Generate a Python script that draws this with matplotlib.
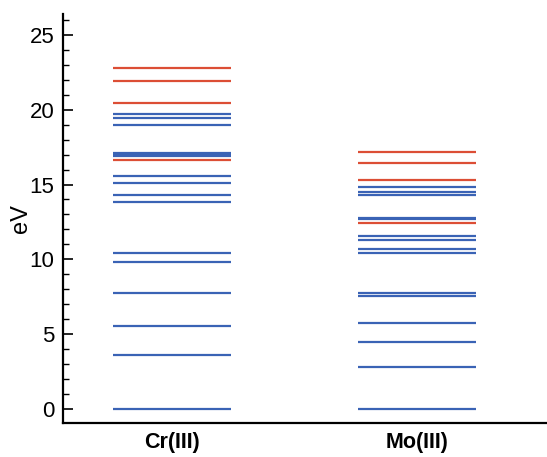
import matplotlib
matplotlib.use('Agg')
import matplotlib.pyplot as plt
from matplotlib.ticker import MultipleLocator

plt.rcParams['font.family'] = ['Liberation Sans', 'DejaVu Sans']

# energy levels (eV) for each ion, split by colour group
ions = ['Cr(III)', 'Mo(III)']

cr_blue = [0.0, 3.60, 5.56, 7.75, 9.81, 10.41, 13.80, 14.33, 15.07, 15.57,
           16.88, 16.98, 17.10, 18.98, 19.42, 19.72]
cr_red = [16.61, 20.46, 21.90, 22.80]

mo_blue = [0.0, 2.81, 4.47, 5.72, 7.55, 7.77, 10.43, 10.70, 11.28, 11.57,
           12.70, 12.78, 14.29, 14.53, 14.80]
mo_red = [12.44, 15.27, 16.44, 17.17]

BLUE = '#3a63b5'
RED = '#dc4e35'
HALF = 0.241

fig = plt.figure(figsize=(5.47, 4.57), dpi=100)
ax = fig.add_axes([0.1146, 0.0751, 0.8854, 0.8939])

for i, (blue, red) in enumerate([(cr_blue, cr_red), (mo_blue, mo_red)]):
    ax.hlines(blue, i - HALF, i + HALF, color=BLUE, linewidth=1.6)
    ax.hlines(red, i - HALF, i + HALF, color=RED, linewidth=1.6)

ax.set_xlim(-0.447, 1.532)
ax.set_ylim(-0.94, 26.4)

ax.set_xticks(range(len(ions)))
ax.set_xticklabels(ions, fontsize=15.5, fontweight='bold')
ax.tick_params(axis='x', length=0, pad=7)

ax.yaxis.set_major_locator(MultipleLocator(5))
ax.yaxis.set_minor_locator(MultipleLocator(1))
ax.tick_params(axis='y', which='major', direction='in', length=7.2, width=1.2,
               labelsize=16, pad=6)
ax.tick_params(axis='y', which='minor', direction='in', length=4.3, width=1.0)
ax.set_ylabel('eV', fontsize=17)
ax.yaxis.set_label_coords(-0.064, 0.5)

ax.spines['top'].set_visible(False)
ax.spines['right'].set_visible(False)
ax.spines['left'].set_linewidth(1.6)
ax.spines['bottom'].set_linewidth(1.6)

fig.savefig('out.png', dpi=100, facecolor='white')
